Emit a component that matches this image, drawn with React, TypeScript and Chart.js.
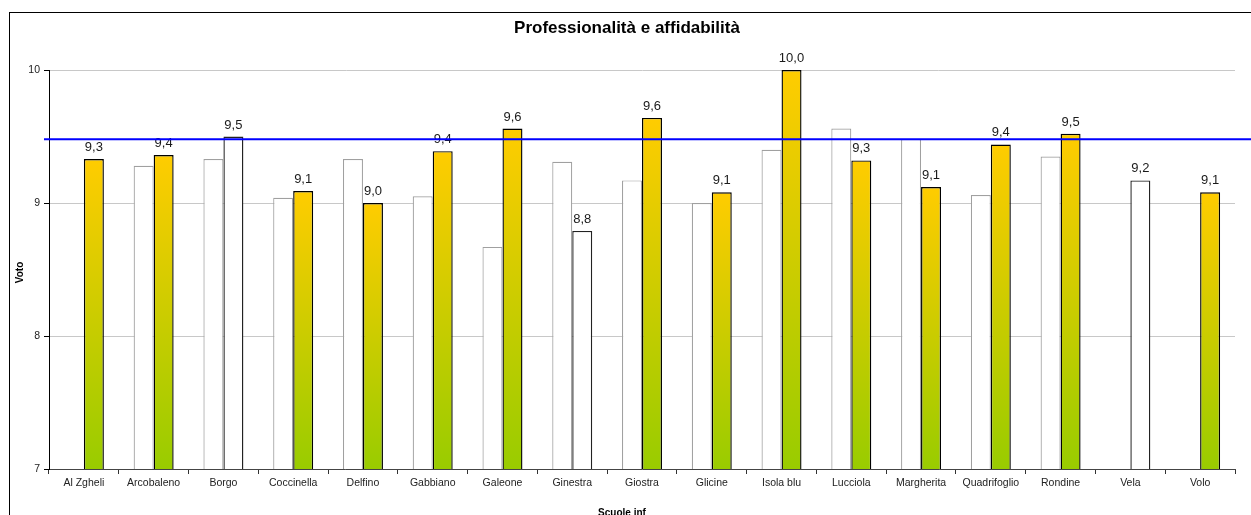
import React, { useEffect, useRef } from "react";
import { Chart, registerables } from "chart.js";

Chart.register(...registerables);

const chartTitle = "Professionalità e affidabilità";
const yAxisTitle = "Voto";
const xAxisTitle = "Scuole inf";

const schools = [
  "Al Zgheli",
  "Arcobaleno",
  "Borgo",
  "Coccinella",
  "Delfino",
  "Gabbiano",
  "Galeone",
  "Ginestra",
  "Giostra",
  "Glicine",
  "Isola blu",
  "Lucciola",
  "Margherita",
  "Quadrifoglio",
  "Rondine",
  "Vela",
  "Volo",
];

const previousScores: (number | null)[] = [
  null, 9.28, 9.33, 9.04, 9.33, 9.05, 8.67, 9.31, 9.17, 9.0, 9.4, 9.56, 9.48, 9.06, 9.35, null, null,
];

const currentScores: number[] = [
  9.33, 9.36, 9.5, 9.09, 9.0, 9.39, 9.56, 8.79, 9.64, 9.08, 10.0, 9.32, 9.12, 9.44, 9.52, 9.17, 9.08,
];

const plainBarSchools = ["Borgo", "Ginestra", "Vela"];

const referenceLine = 9.48;

const yMin = 7;
const yMax = 10;
const yStep = 1;

const FONT = "'Liberation Sans', Arial, Helvetica, sans-serif";

const fmt = (v: number) => v.toFixed(1).replace(".", ",");

export default function App() {
  const canvasRef = useRef<HTMLCanvasElement | null>(null);

  useEffect(() => {
    const canvas = canvasRef.current;
    if (!canvas) return;

    const decor = {
      id: "decor",
      beforeDraw(chart: any) {
        const ctx = chart.ctx;
        ctx.save();
        ctx.fillStyle = "#ffffff";
        ctx.fillRect(0, 0, chart.width, chart.height);
        ctx.restore();
      },
      afterDatasetsDraw(chart: any) {
        const ctx = chart.ctx;
        const meta = chart.getDatasetMeta(1);
        ctx.save();
        ctx.fillStyle = "#1a1a1a";
        ctx.font = `13px ${FONT}`;
        ctx.textAlign = "center";
        ctx.textBaseline = "alphabetic";
        meta.data.forEach((el: any, i: number) => {
          const v = currentScores[i];
          if (v == null) return;
          ctx.fillText(fmt(v), el.x, el.y - 8);
        });
        const y = chart.scales.y.getPixelForValue(referenceLine);
        ctx.strokeStyle = "#0000ff";
        ctx.lineWidth = 2;
        ctx.beginPath();
        ctx.moveTo(44, y);
        ctx.lineTo(chart.width, y);
        ctx.stroke();
        ctx.restore();
      },
      afterDraw(chart: any) {
        const ctx = chart.ctx;
        const area = chart.chartArea;
        ctx.save();
        ctx.strokeStyle = "#000000";
        ctx.lineWidth = 1;
        ctx.strokeRect(9.5, 12.5, chart.width + 20, chart.height + 20);
        ctx.fillStyle = "#000000";
        ctx.textAlign = "center";
        ctx.textBaseline = "middle";
        ctx.font = `bold 17px ${FONT}`;
        ctx.fillText(chartTitle, 627, 28);
        ctx.font = `bold 10px ${FONT}`;
        ctx.save();
        ctx.translate(20, (area.top + area.bottom) / 2 + 3);
        ctx.rotate(-Math.PI / 2);
        ctx.fillText(yAxisTitle, 0, 0);
        ctx.restore();
        ctx.textBaseline = "alphabetic";
        ctx.fillText(xAxisTitle, 622, 516);
        ctx.restore();
      },
    };

    const chart = new Chart(canvas, {
      type: "bar",
      data: {
        labels: schools,
        datasets: [
          {
            label: "Precedente",
            data: previousScores,
            backgroundColor: "#ffffff",
            borderColor: "#a0a0a0",
            borderWidth: 1.2,
            categoryPercentage: 0.573,
            barPercentage: 1,
          },
          {
            label: "Attuale",
            data: currentScores,
            backgroundColor: (c: any) => {
              const i = c.dataIndex;
              if (plainBarSchools.includes(schools[i])) return "#ffffff";
              const chart = c.chart;
              const ys = chart.scales && chart.scales.y;
              const v = currentScores[i];
              if (!ys || v == null || !chart.chartArea) return "#ffcc00";
              const top = ys.getPixelForValue(v);
              const bottom = ys.getPixelForValue(yMin);
              if (!isFinite(top) || !isFinite(bottom) || bottom <= top) return "#ffcc00";
              const g = chart.ctx.createLinearGradient(0, top, 0, bottom);
              g.addColorStop(0, "#ffcc00");
              g.addColorStop(1, "#99cc00");
              return g;
            },
            borderColor: (c: any) =>
              plainBarSchools.includes(schools[c.dataIndex]) ? "#222222" : "#000000",
            borderWidth: 1.4,
            categoryPercentage: 0.573,
            barPercentage: 1,
          },
        ],
      },
      options: {
        responsive: false,
        animation: false,
        events: [],
        layout: { padding: { top: 70, right: 16, bottom: 0, left: 0 } },
        plugins: {
          legend: { display: false },
          title: { display: false },
          tooltip: { enabled: false },
        },
        scales: {
          x: {
            grid: {
              display: true,
              drawOnChartArea: false,
              drawTicks: true,
              tickLength: 5,
              tickColor: "#333333",
              offset: true,
            },
            border: { display: true, color: "#444444", width: 1 },
            ticks: {
              color: "#222222",
              font: { family: FONT, size: 10.5 },
              padding: 3,
              maxRotation: 0,
              autoSkip: false,
            },
            afterFit: (s: any) => {
              s.height = 46;
            },
          },
          y: {
            min: yMin,
            max: yMax,
            grid: {
              color: "#c8c8c8",
              lineWidth: 1,
              tickLength: 5,
              tickColor: "#000000",
            },
            border: { display: true, color: "#000000", width: 1 },
            ticks: {
              stepSize: yStep,
              color: "#222222",
              font: { family: FONT, size: 10.5 },
              padding: 4,
            },
            afterFit: (s: any) => {
              s.width = 49;
            },
          },
        },
      },
      plugins: [decor],
    });

    return () => {
      chart.destroy();
    };
  }, []);

  return (
    <div style={{ position: "fixed", left: 0, top: 0, width: 1251, height: 515, background: "#fff" }}>
      <canvas ref={canvasRef} width={1251} height={515} style={{ display: "block" }} />
    </div>
  );
}
